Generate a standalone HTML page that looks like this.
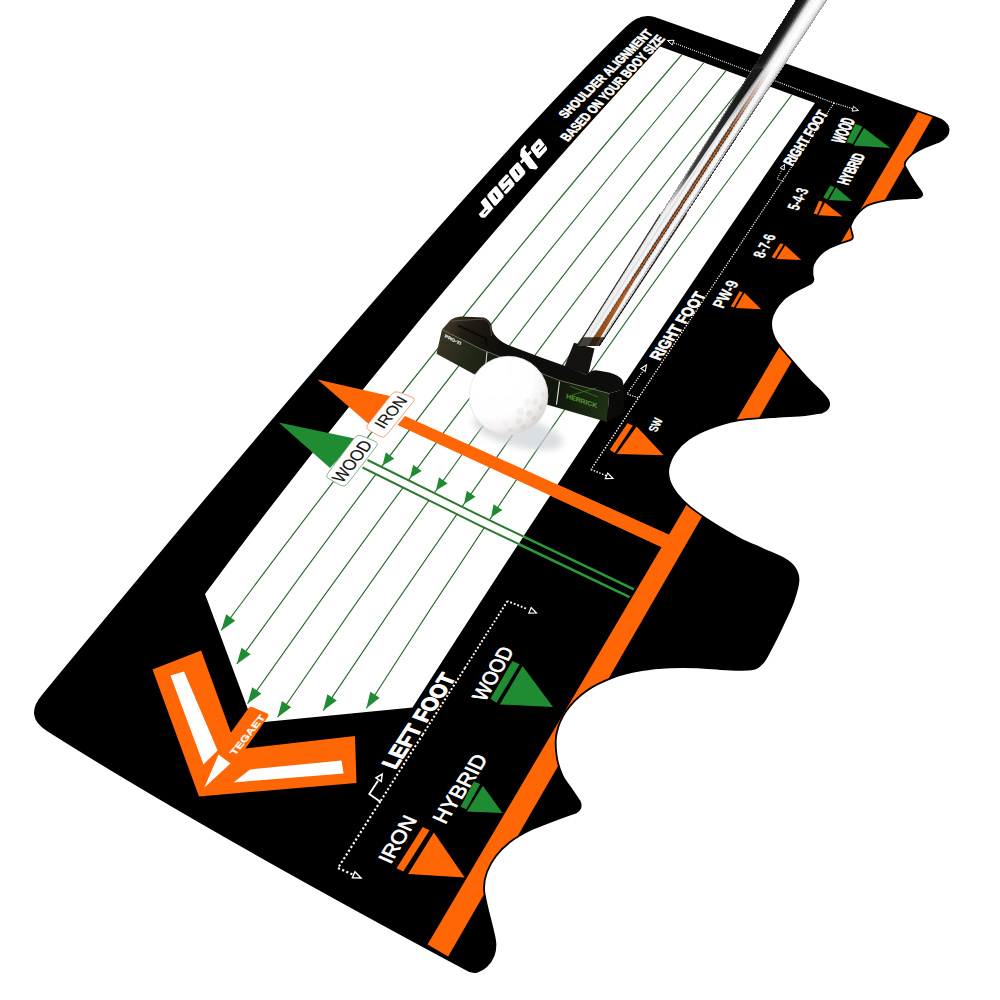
<!DOCTYPE html>
<html><head><meta charset="utf-8"><title>mat</title>
<style>
html,body{margin:0;padding:0;background:#fff;}
body{width:1000px;height:1000px;overflow:hidden;}
svg{display:block;font-family:"Liberation Sans",sans-serif;}
</style></head><body>
<svg width="1000" height="1000" viewBox="0 0 1000 1000">
<defs>
<clipPath id="matclip"><path d="M626 28 Q640.5 13 655 18.2 L936 117.5 C950 122 954 134 939.2 141.6 C936.8 142.53 929.33 145.07 924.8 147.2 C920.27 149.33 915.2 152 912 154.4 C908.8 156.8 906.8 159.73 905.6 161.6 C904.4 163.47 904.93 164.93 904.8 165.6 C906 167.73 909.3 174.08 912 178.4 C914.7 182.72 919.5 189.32 921 191.5 Q924.5 197 917 198 C913.5 198.2 902.17 198.6 896 199.2 C889.83 199.8 884.8 200.53 880 201.6 C875.2 202.67 870.67 203.87 867.2 205.6 C863.73 207.33 861.47 209.73 859.2 212 C856.93 214.27 855.07 216.8 853.6 219.2 C852.13 221.6 850.93 225.2 850.4 226.4 L852.8 236 Q853.5 240 848 240.8 C844.87 242 833.93 245.6 829.2 248 C824.47 250.4 822.27 252.4 819.6 255.2 C816.93 258 814.4 261.6 813.2 264.8 C812 268 812.53 272.8 812.4 274.4 L813.4 279 Q813.5 282.5 808 285 C805.67 286.17 798.2 289.5 794 292 C789.8 294.5 785.87 297.07 782.8 300 C779.73 302.93 777.47 306.4 775.6 309.6 C773.73 312.8 772.27 316 771.6 319.2 C770.93 322.4 771.07 325.6 771.6 328.8 C772.13 332 773.2 335.2 774.8 338.4 C776.4 341.6 778.42 344.4 781.2 348 C783.98 351.6 786.87 354.7 791.5 360 C796.13 365.3 803.82 374.3 809 379.8 C814.18 385.3 819.43 389.63 822.6 393 C825.77 396.37 827.1 398.83 828 400 Q832 408 822 412.5 C819.17 412.92 813.33 414.22 805 415 C796.67 415.78 783.37 416.28 772 417.2 C760.63 418.12 747.07 418.67 736.8 420.5 C726.53 422.33 718.47 425.08 710.4 428.2 C702.33 431.32 694.27 435.17 688.4 439.2 C682.53 443.23 678.5 447.63 675.2 452.4 C671.9 457.17 669.52 463.03 668.6 467.8 C667.68 472.57 668.23 476.6 669.7 481 C671.17 485.4 673.92 489.8 677.4 494.2 C680.88 498.6 684.73 502.63 690.6 507.4 C696.47 512.17 704.53 517.67 712.6 522.8 C720.67 527.93 730.57 533.8 739 538.2 C747.43 542.6 755.87 545.9 763.2 549.2 C770.53 552.5 777.87 555.07 783 558 C788.13 560.93 791.42 563.13 794 566.8 C796.58 570.47 798.63 574.2 798.5 580 C798.37 585.8 795.95 593.8 793.2 601.6 C790.45 609.4 785.73 618.87 782 626.8 C778.27 634.73 774.07 643.13 770.8 649.2 C767.53 655.27 765.67 659.83 762.4 663.2 C759.13 666.57 757.27 668.37 751.2 669.4 C745.13 670.43 734.87 669.73 726 669.4 C717.13 669.07 707.33 667.73 698 667.4 C688.67 667.07 679.33 666.93 670 667.4 C660.67 667.87 651.33 668.57 642 670.2 C632.67 671.83 623.33 673.7 614 677.2 C604.67 680.7 593.93 685.6 586 691.2 C578.07 696.8 571.3 703.8 566.4 710.8 C561.5 717.8 558.23 725.73 556.6 733.2 C554.97 740.67 555.67 748.6 556.6 755.6 C557.53 762.6 559.63 769.47 562.2 775.2 C564.77 780.93 569.12 785.7 572 790 C574.88 794.3 578.25 799.17 579.5 801 Q583 808 576 812.5 C571.67 814.08 557.67 819.08 550 822 C542.33 824.92 536.67 826.67 530 830 C523.33 833.33 515.67 837.67 510 842 C504.33 846.33 499.83 851 496 856 C492.17 861 489 866.67 487 872 C485 877.33 484 882.33 484 888 C484 893.67 485.6 899.33 487 906 C488.4 912.67 491 921.73 492.4 928 C493.8 934.27 495.2 939 495.4 943.6 C495.6 948.2 495.1 951.8 493.6 955.6 C492.1 959.4 489.2 963.7 486.4 966.4 C483.6 969.1 479.6 971 476.8 971.8 C474 972.6 470.8 971.3 469.6 971.2 Q199 826.4 47 730 Q25 716 43 695 Q454 196.4 626 28 Z"/></clipPath>
<clipPath id="panelclip"><path d="M660 46.5 L815 103 Q608.53 401.75 412.5 707.5 L253 723 L205 594 Q417.1 307.5 660 46.5 Z"/></clipPath>
<linearGradient id="shaftg" gradientUnits="userSpaceOnUse" x1="685.5" y1="162" x2="707.5" y2="176.2">
<stop offset="0" stop-color="#3a3a3a"/><stop offset="0.08" stop-color="#9a9a9a"/><stop offset="0.22" stop-color="#f4f4f4"/>
<stop offset="0.42" stop-color="#ffffff"/><stop offset="0.55" stop-color="#c8c8c8"/><stop offset="0.68" stop-color="#8a8a8a"/>
<stop offset="0.8" stop-color="#d8d8d8"/><stop offset="0.92" stop-color="#777"/><stop offset="1" stop-color="#222"/></linearGradient>
<radialGradient id="ballg" gradientUnits="userSpaceOnUse" cx="492" cy="376" r="66">
<stop offset="0" stop-color="#ffffff"/><stop offset="0.62" stop-color="#fefefe"/><stop offset="0.8" stop-color="#f3f1f1"/><stop offset="0.92" stop-color="#e2dcdc"/><stop offset="1" stop-color="#d2caca"/></radialGradient>
<linearGradient id="faceg" gradientUnits="userSpaceOnUse" x1="440" y1="340" x2="610" y2="410">
<stop offset="0" stop-color="#3a3424"/><stop offset="0.18" stop-color="#222818"/><stop offset="0.45" stop-color="#0e120b"/><stop offset="0.7" stop-color="#10170c"/><stop offset="1" stop-color="#1f3216"/></linearGradient>
<filter id="blur3" x="-20%" y="-20%" width="140%" height="140%"><feGaussianBlur stdDeviation="3"/></filter>
<linearGradient id="topg" gradientUnits="userSpaceOnUse" x1="445" y1="318" x2="500" y2="350"><stop offset="0" stop-color="#4a3d2c"/><stop offset="0.35" stop-color="#221d15"/><stop offset="1" stop-color="#0d0d0b"/></linearGradient>
<linearGradient id="fadeg" gradientUnits="userSpaceOnUse" x1="762" y1="62" x2="722" y2="128"><stop offset="0" stop-color="#fff" stop-opacity="0"/><stop offset="1" stop-color="#fff" stop-opacity="1"/></linearGradient>
<mask id="fadem" maskUnits="userSpaceOnUse" x="0" y="0" width="1000" height="1000"><rect width="1000" height="1000" fill="url(#fadeg)"/></mask>
<linearGradient id="wedgeg" gradientUnits="userSpaceOnUse" x1="740" y1="95" x2="668" y2="205"><stop offset="0" stop-color="#1a1a1a" stop-opacity="1"/><stop offset="0.7" stop-color="#222" stop-opacity="0.85"/><stop offset="1" stop-color="#333" stop-opacity="0"/></linearGradient>
<linearGradient id="browng" gradientUnits="userSpaceOnUse" x1="640" y1="262" x2="592" y2="338"><stop offset="0" stop-color="#b85a1c" stop-opacity="0"/><stop offset="0.5" stop-color="#b85a1c" stop-opacity="0.9"/><stop offset="1" stop-color="#8a4a18" stop-opacity="1"/></linearGradient>
</defs>
<rect width="1000" height="1000" fill="#fff"/>
<path d="M626 28 Q640.5 13 655 18.2 L936 117.5 C950 122 954 134 939.2 141.6 C936.8 142.53 929.33 145.07 924.8 147.2 C920.27 149.33 915.2 152 912 154.4 C908.8 156.8 906.8 159.73 905.6 161.6 C904.4 163.47 904.93 164.93 904.8 165.6 C906 167.73 909.3 174.08 912 178.4 C914.7 182.72 919.5 189.32 921 191.5 Q924.5 197 917 198 C913.5 198.2 902.17 198.6 896 199.2 C889.83 199.8 884.8 200.53 880 201.6 C875.2 202.67 870.67 203.87 867.2 205.6 C863.73 207.33 861.47 209.73 859.2 212 C856.93 214.27 855.07 216.8 853.6 219.2 C852.13 221.6 850.93 225.2 850.4 226.4 L852.8 236 Q853.5 240 848 240.8 C844.87 242 833.93 245.6 829.2 248 C824.47 250.4 822.27 252.4 819.6 255.2 C816.93 258 814.4 261.6 813.2 264.8 C812 268 812.53 272.8 812.4 274.4 L813.4 279 Q813.5 282.5 808 285 C805.67 286.17 798.2 289.5 794 292 C789.8 294.5 785.87 297.07 782.8 300 C779.73 302.93 777.47 306.4 775.6 309.6 C773.73 312.8 772.27 316 771.6 319.2 C770.93 322.4 771.07 325.6 771.6 328.8 C772.13 332 773.2 335.2 774.8 338.4 C776.4 341.6 778.42 344.4 781.2 348 C783.98 351.6 786.87 354.7 791.5 360 C796.13 365.3 803.82 374.3 809 379.8 C814.18 385.3 819.43 389.63 822.6 393 C825.77 396.37 827.1 398.83 828 400 Q832 408 822 412.5 C819.17 412.92 813.33 414.22 805 415 C796.67 415.78 783.37 416.28 772 417.2 C760.63 418.12 747.07 418.67 736.8 420.5 C726.53 422.33 718.47 425.08 710.4 428.2 C702.33 431.32 694.27 435.17 688.4 439.2 C682.53 443.23 678.5 447.63 675.2 452.4 C671.9 457.17 669.52 463.03 668.6 467.8 C667.68 472.57 668.23 476.6 669.7 481 C671.17 485.4 673.92 489.8 677.4 494.2 C680.88 498.6 684.73 502.63 690.6 507.4 C696.47 512.17 704.53 517.67 712.6 522.8 C720.67 527.93 730.57 533.8 739 538.2 C747.43 542.6 755.87 545.9 763.2 549.2 C770.53 552.5 777.87 555.07 783 558 C788.13 560.93 791.42 563.13 794 566.8 C796.58 570.47 798.63 574.2 798.5 580 C798.37 585.8 795.95 593.8 793.2 601.6 C790.45 609.4 785.73 618.87 782 626.8 C778.27 634.73 774.07 643.13 770.8 649.2 C767.53 655.27 765.67 659.83 762.4 663.2 C759.13 666.57 757.27 668.37 751.2 669.4 C745.13 670.43 734.87 669.73 726 669.4 C717.13 669.07 707.33 667.73 698 667.4 C688.67 667.07 679.33 666.93 670 667.4 C660.67 667.87 651.33 668.57 642 670.2 C632.67 671.83 623.33 673.7 614 677.2 C604.67 680.7 593.93 685.6 586 691.2 C578.07 696.8 571.3 703.8 566.4 710.8 C561.5 717.8 558.23 725.73 556.6 733.2 C554.97 740.67 555.67 748.6 556.6 755.6 C557.53 762.6 559.63 769.47 562.2 775.2 C564.77 780.93 569.12 785.7 572 790 C574.88 794.3 578.25 799.17 579.5 801 Q583 808 576 812.5 C571.67 814.08 557.67 819.08 550 822 C542.33 824.92 536.67 826.67 530 830 C523.33 833.33 515.67 837.67 510 842 C504.33 846.33 499.83 851 496 856 C492.17 861 489 866.67 487 872 C485 877.33 484 882.33 484 888 C484 893.67 485.6 899.33 487 906 C488.4 912.67 491 921.73 492.4 928 C493.8 934.27 495.2 939 495.4 943.6 C495.6 948.2 495.1 951.8 493.6 955.6 C492.1 959.4 489.2 963.7 486.4 966.4 C483.6 969.1 479.6 971 476.8 971.8 C474 972.6 470.8 971.3 469.6 971.2 Q199 826.4 47 730 Q25 716 43 695 Q454 196.4 626 28 Z" fill="#000"/>
<g clip-path="url(#matclip)">
<polygon points="920.2,108 935.4,112.3 448.2,956.4 427.5,944.6" fill="#ff6606" />
<polygon points="405,416 670,535.2 663,547.7 397.5,425" fill="#ff6606" />
</g>
<g stroke="#2a9a3a" stroke-width="2.6" fill="none">
<path d="M480 515.7 L634 589.4"/>
<path d="M480 525.6 L629.6 597.1"/>
</g>
<path d="M626 28 Q640.5 13 655 18.2 L936 117.5 C950 122 954 134 939.2 141.6 C936.8 142.53 929.33 145.07 924.8 147.2 C920.27 149.33 915.2 152 912 154.4 C908.8 156.8 906.8 159.73 905.6 161.6 C904.4 163.47 904.93 164.93 904.8 165.6 C906 167.73 909.3 174.08 912 178.4 C914.7 182.72 919.5 189.32 921 191.5 Q924.5 197 917 198 C913.5 198.2 902.17 198.6 896 199.2 C889.83 199.8 884.8 200.53 880 201.6 C875.2 202.67 870.67 203.87 867.2 205.6 C863.73 207.33 861.47 209.73 859.2 212 C856.93 214.27 855.07 216.8 853.6 219.2 C852.13 221.6 850.93 225.2 850.4 226.4 L852.8 236 Q853.5 240 848 240.8 C844.87 242 833.93 245.6 829.2 248 C824.47 250.4 822.27 252.4 819.6 255.2 C816.93 258 814.4 261.6 813.2 264.8 C812 268 812.53 272.8 812.4 274.4 L813.4 279 Q813.5 282.5 808 285 C805.67 286.17 798.2 289.5 794 292 C789.8 294.5 785.87 297.07 782.8 300 C779.73 302.93 777.47 306.4 775.6 309.6 C773.73 312.8 772.27 316 771.6 319.2 C770.93 322.4 771.07 325.6 771.6 328.8 C772.13 332 773.2 335.2 774.8 338.4 C776.4 341.6 778.42 344.4 781.2 348 C783.98 351.6 786.87 354.7 791.5 360 C796.13 365.3 803.82 374.3 809 379.8 C814.18 385.3 819.43 389.63 822.6 393 C825.77 396.37 827.1 398.83 828 400 Q832 408 822 412.5 C819.17 412.92 813.33 414.22 805 415 C796.67 415.78 783.37 416.28 772 417.2 C760.63 418.12 747.07 418.67 736.8 420.5 C726.53 422.33 718.47 425.08 710.4 428.2 C702.33 431.32 694.27 435.17 688.4 439.2 C682.53 443.23 678.5 447.63 675.2 452.4 C671.9 457.17 669.52 463.03 668.6 467.8 C667.68 472.57 668.23 476.6 669.7 481 C671.17 485.4 673.92 489.8 677.4 494.2 C680.88 498.6 684.73 502.63 690.6 507.4 C696.47 512.17 704.53 517.67 712.6 522.8 C720.67 527.93 730.57 533.8 739 538.2 C747.43 542.6 755.87 545.9 763.2 549.2 C770.53 552.5 777.87 555.07 783 558 C788.13 560.93 791.42 563.13 794 566.8 C796.58 570.47 798.63 574.2 798.5 580 C798.37 585.8 795.95 593.8 793.2 601.6 C790.45 609.4 785.73 618.87 782 626.8 C778.27 634.73 774.07 643.13 770.8 649.2 C767.53 655.27 765.67 659.83 762.4 663.2 C759.13 666.57 757.27 668.37 751.2 669.4 C745.13 670.43 734.87 669.73 726 669.4 C717.13 669.07 707.33 667.73 698 667.4 C688.67 667.07 679.33 666.93 670 667.4 C660.67 667.87 651.33 668.57 642 670.2 C632.67 671.83 623.33 673.7 614 677.2 C604.67 680.7 593.93 685.6 586 691.2 C578.07 696.8 571.3 703.8 566.4 710.8 C561.5 717.8 558.23 725.73 556.6 733.2 C554.97 740.67 555.67 748.6 556.6 755.6 C557.53 762.6 559.63 769.47 562.2 775.2 C564.77 780.93 569.12 785.7 572 790 C574.88 794.3 578.25 799.17 579.5 801 Q583 808 576 812.5 C571.67 814.08 557.67 819.08 550 822 C542.33 824.92 536.67 826.67 530 830 C523.33 833.33 515.67 837.67 510 842 C504.33 846.33 499.83 851 496 856 C492.17 861 489 866.67 487 872 C485 877.33 484 882.33 484 888 C484 893.67 485.6 899.33 487 906 C488.4 912.67 491 921.73 492.4 928 C493.8 934.27 495.2 939 495.4 943.6 C495.6 948.2 495.1 951.8 493.6 955.6 C492.1 959.4 489.2 963.7 486.4 966.4 C483.6 969.1 479.6 971 476.8 971.8 C474 972.6 470.8 971.3 469.6 971.2 Q199 826.4 47 730 Q25 716 43 695 Q454 196.4 626 28 Z" fill="none" stroke="#000" stroke-width="1.8"/>
<path d="M660 46.5 L815 103 Q608.53 401.75 412.5 707.5 L253 723 L205 594 Q417.1 307.5 660 46.5 Z" fill="#fff"/>
<path d="M682 54.5 Q440.47 333.68 221.2 630.4" fill="none" stroke="#2e6632" stroke-width="1.15"/>
<polygon points="221.2,630.4 226.21,614.2 235.21,620.86" fill="#1f8b32" />
<path d="M704 62.5 Q458.24 353.95 236.8 664" fill="none" stroke="#2e6632" stroke-width="1.15"/>
<polygon points="236.8,664 241.54,647.73 250.66,654.23" fill="#1f8b32" />
<polygon points="382.5,465.5 385.8,452.33 394.26,458.71" fill="#1f8b32" />
<path d="M726 70.6 Q475.43 378.6 247.6 703.6" fill="none" stroke="#2e6632" stroke-width="1.15"/>
<polygon points="247.6,703.6 252.2,687.28 261.37,693.71" fill="#1f8b32" />
<polygon points="410,478 413.17,464.8 421.69,471.1" fill="#1f8b32" />
<path d="M748 78.6 Q500.42 388.94 277.6 717.3" fill="none" stroke="#2e6632" stroke-width="1.15"/>
<polygon points="277.6,717.3 281.95,700.92 291.22,707.2" fill="#1f8b32" />
<polygon points="436,490.5 438.99,477.26 447.6,483.44" fill="#1f8b32" />
<path d="M770 86.6 Q535.82 390.98 323.2 710.6" fill="none" stroke="#2e6632" stroke-width="1.15"/>
<polygon points="323.2,710.6 327.4,694.18 336.72,700.38" fill="#1f8b32" />
<polygon points="464,504 466.81,490.72 475.5,496.78" fill="#1f8b32" />
<path d="M792 94.6 Q566.84 393.02 366.4 708.3" fill="none" stroke="#2e6632" stroke-width="1.15"/>
<polygon points="366.4,708.3 370.26,691.79 379.71,697.8" fill="#1f8b32" />
<polygon points="491,517.5 493.56,504.17 502.36,510.07" fill="#1f8b32" />
<g clip-path="url(#matclip)">
<polygon points="405,416 670,535.2 663,547.7 397.5,425" fill="#ff6606" />
</g>
<g clip-path="url(#panelclip)">
<polygon points="367.5,460 634,589.4 629.6,597.1 362.5,467.5" fill="#fff" />
<g stroke="#2f7a32" stroke-width="2" fill="none">
<path d="M367.5 460 L480 515.7 L634 589.4"/>
<path d="M362.5 467.5 L480 525.6 L629.6 597.1"/>
</g></g>
<polygon points="317.5,379.5 392,396.5 371,426" fill="#ff6606" />
<polygon points="278.75,422.5 357,439 330,468" fill="#1f8b32" />
<path d="M391.82 394.14 Q394.6 390.6 398.81 392.18 L411.69 397.02 Q415.9 398.6 413.07 402.1 L386.43 435.1 Q383.6 438.6 379.7 436.35 L369.1 430.25 Q365.2 428 367.98 424.46 Z" fill="#fff" stroke="#f4a27a" stroke-width="1"/>
<path d="M354.79 437.59 Q357.5 434 361.65 435.74 L374.85 441.26 Q379 443 376.24 446.56 L347.26 483.94 Q344.5 487.5 340.56 485.32 L329.14 478.98 Q325.2 476.8 327.91 473.21 Z" fill="#fff" stroke="#8fae8f" stroke-width="1"/>
<text transform="matrix(0.0984 -0.1168 0.1424 0.0770 383.6 429.6)" font-size="100" font-weight="400" fill="#111"  stroke="#111" stroke-width="0.8" stroke-linejoin="round">IRON</text>
<text transform="matrix(0.0959 -0.1220 0.1599 0.0814 342.3 483.7)" font-size="100" font-weight="400" fill="#111"  stroke="#111" stroke-width="0.8" stroke-linejoin="round">WOOD</text>
<polygon points="152.5,669.6 201.1,650.4 237,749.5 355,736 356.5,783 199,796.5" fill="#ff6606" />
<polygon points="170.5,675.6 184,671.4 217.6,750.6 203.5,764.4" fill="#fff" />
<polygon points="233.5,782.4 250,769.5 341.5,760.5 343.6,773.4" fill="#fff" />
<polygon points="218.5,754.5 230.5,763.5 204.4,787.5" fill="#fff" />
<path d="M248.25 708.44 Q250 706 252.75 707.2 L266.75 713.3 Q269.5 714.5 267.77 716.95 L237.73 759.55 Q236 762 233.35 760.6 L219.65 753.4 Q217 752 218.75 749.56 Z" fill="#ff6606" stroke="none" stroke-width="0"/>
<text transform="matrix(0.0759 -0.0952 0.0814 0.0451 235 755.8)" font-size="100" font-weight="700" fill="#fff"  stroke="#fff" stroke-width="3" stroke-linejoin="round">TEGAET</text>
<polygon points="855.2,124 862.4,126.4 852.8,144 846.4,141.9" fill="#1f8b32" />
<polygon points="864,128 853.6,145.6 890.4,148" fill="#1f8b32" />
<polygon points="830.4,185.6 834.4,187.2 827.2,199.2 823.2,197.6" fill="#1f8b32" />
<polygon points="836,187.2 828.8,200 852,201" fill="#1f8b32" />
<polygon points="819.2,200.8 822.7,201.8 817.1,214.6 813.6,213.6" fill="#ff6606" />
<polygon points="824.8,202.4 818.4,215.2 842.4,216.5" fill="#ff6606" />
<polygon points="780.4,243.2 783.6,244.3 774.8,258.4 771.6,257.1" fill="#ff6606" />
<polygon points="785.2,245.3 776.7,258.9 801.2,260" fill="#ff6606" />
<polygon points="739.6,291.2 742.6,292.2 733.8,307.4 730.8,306.4" fill="#ff6606" />
<polygon points="744.4,292.8 735.6,308 761.2,309.3" fill="#ff6606" />
<polygon points="627.4,423.3 632.9,425.5 614.6,453 609.8,449.7" fill="#ff6606" />
<polygon points="636.6,426.6 616.8,454.1 663.7,455.2" fill="#ff6606" />
<polygon points="512.4,661 519.7,664.3 496.5,702.8 490.4,698.8" fill="#1f8b32" />
<polygon points="522.6,666 499.8,704.5 553,706.9" fill="#1f8b32" />
<polygon points="473.8,781.5 480.3,784.1 466.4,809.3 460.5,806.7" fill="#1f8b32" />
<polygon points="482.9,785.7 466.8,811.6 502.5,813" fill="#1f8b32" />
<polygon points="422.7,827 429.6,830.3 403.3,871.6 396.5,868.3" fill="#ff6606" />
<polygon points="433.9,832.6 408,873.9 464.7,877.4" fill="#ff6606" />
<text transform="matrix(0.0746 -0.0727 0.1119 0.0698 565.6 119)" font-size="100" font-weight="700" fill="#fff"  stroke="#fff" stroke-width="5" stroke-linejoin="round">SHOULDER ALIGNMENT</text>
<text transform="matrix(0.0693 -0.0732 0.1192 0.0698 567.8 142.1)" font-size="100" font-weight="700" fill="#fff"  stroke="#fff" stroke-width="5" stroke-linejoin="round">BASED ON YOUR BOOY SIZE</text>
<text transform="matrix(0.0590 -0.0863 0.1366 0.0610 792.2 166.6)" font-size="100" font-weight="700" fill="#fff"  stroke="#fff" stroke-width="5" stroke-linejoin="round">RIGHT FOOT</text>
<text transform="matrix(0.0348 -0.0745 0.1817 0.0509 844 144)" font-size="100" font-weight="700" fill="#fff"  stroke="#fff" stroke-width="5" stroke-linejoin="round">WOOD</text>
<text transform="matrix(0.0459 -0.0793 0.1628 0.0422 848 185.6)" font-size="100" font-weight="700" fill="#fff"  stroke="#fff" stroke-width="5" stroke-linejoin="round">HYBRID</text>
<text transform="matrix(0.0471 -0.0900 0.1599 0.0436 798 211)" font-size="100" font-weight="700" fill="#fff"  stroke="#fff" stroke-width="2" stroke-linejoin="round">5-4-3</text>
<text transform="matrix(0.0548 -0.0960 0.1584 0.0378 763.6 258.4)" font-size="100" font-weight="700" fill="#fff"  stroke="#fff" stroke-width="2" stroke-linejoin="round">8-7-6</text>
<text transform="matrix(0.0645 -0.1048 0.1599 0.0523 723 309)" font-size="100" font-weight="700" fill="#fff"  stroke="#fff" stroke-width="2" stroke-linejoin="round">PW-9</text>
<text transform="matrix(0.0410 -0.0819 0.1221 0.0320 656.5 432.6)" font-size="100" font-weight="700" fill="#fff"  stroke="#fff" stroke-width="2" stroke-linejoin="round">SW</text>
<text transform="matrix(0.0762 -0.1078 0.1526 0.0552 659.5 361)" font-size="100" font-weight="700" fill="#fff"  stroke="#fff" stroke-width="5" stroke-linejoin="round">RIGHT FOOT</text>
<text transform="matrix(0.1104 -0.1676 0.2064 0.0770 395.3 770)" font-size="100" font-weight="700" fill="#fff"  stroke="#fff" stroke-width="5" stroke-linejoin="round">LEFT FOOT</text>
<text transform="matrix(0.0906 -0.1608 0.1948 0.0770 485 702.2)" font-size="100" font-weight="400" fill="#fff"  stroke="#fff" stroke-width="3.5" stroke-linejoin="round">WOOD</text>
<text transform="matrix(0.1146 -0.1760 0.1933 0.0872 445.1 824.9)" font-size="100" font-weight="400" fill="#fff"  stroke="#fff" stroke-width="3.5" stroke-linejoin="round">HYBRID</text>
<text transform="matrix(0.1076 -0.1812 0.1860 0.0814 390.5 864.8)" font-size="100" font-weight="400" fill="#fff"  stroke="#fff" stroke-width="3.5" stroke-linejoin="round">IRON</text>
<polygon points="481,217.44 485.02,217.63 493.53,208.33 485.13,197.13 480.4,202.3 484.6,207.9 482.24,210.48 478.69,214.36" fill="#fff" />
<polygon points="484.2,214.25 487.98,210.11 487.31,209.22 483.53,213.35" fill="#000" />
<polygon points="494.1,205.66 495.89,205.75 503.45,197.49 503.55,195.33 496.83,186.37 495.05,186.29 487.49,194.55 487.38,196.7" fill="#fff" />
<polygon points="497,199.44 498.13,198.2 493.93,192.6 492.8,193.84" fill="#000" />
<polygon points="504.97,193.78 506.76,193.87 514.32,185.6 514.42,183.45 507.7,174.49 505.92,174.4 498.36,182.67 498.25,184.82" fill="#fff" />
<polygon points="503.98,183.86 509.88,177.4 509.13,176.39 503.22,182.85" fill="#000" />
<polygon points="503.54,191.88 509.45,185.42 508.69,184.41 502.79,190.87" fill="#000" />
<polygon points="515.84,181.9 517.62,181.99 525.18,173.72 525.29,171.57 518.57,162.61 516.78,162.52 509.22,170.79 509.12,172.94" fill="#fff" />
<polygon points="518.74,175.67 519.87,174.43 515.67,168.83 514.54,170.07" fill="#000" />
<polygon points="529.67,168.81 536.13,169.4 538.02,167.33 529.2,155.57 531.8,152.73 530.12,150.49 527.52,153.33 524.58,149.41 526.71,147.09 525.03,144.85 520.77,149.5 520.01,155.93 522.32,159.01 519.96,161.6 521.64,163.84 524,161.25" fill="#fff" />
<polygon points="537.57,158.14 539.36,158.22 546.92,149.96 547.02,147.81 540.3,138.85 538.52,138.76 530.96,147.02 530.85,149.18" fill="#fff" />
<polygon points="539.28,152.39 545.43,145.68 544.67,144.67 538.53,151.38" fill="#000" />
<polygon points="536.68,148.92 539.75,145.56 538.83,144.33 535.76,147.69" fill="#000" />
<polyline points="674,43 754,73" fill="none" stroke="#fff" stroke-width="1.0375" stroke-dasharray="1.04 1.09"/>
<polyline points="754,73 834,103" fill="none" stroke="#fff" stroke-width="1.1124999999999998" stroke-dasharray="1.11 1.17"/>
<polyline points="834,103 785.4,176.3" fill="none" stroke="#fff" stroke-width="1.135" stroke-dasharray="1.14 1.19"/>
<polyline points="785.4,176.3 736.8,249.6" fill="none" stroke="#fff" stroke-width="1.205" stroke-dasharray="1.21 1.27"/>
<polyline points="736.8,249.6 688.2,322.9" fill="none" stroke="#fff" stroke-width="1.275" stroke-dasharray="1.27 1.34"/>
<polyline points="688.2,322.9 639.6,396.2" fill="none" stroke="#fff" stroke-width="1.345" stroke-dasharray="1.34 1.41"/>
<polyline points="639.6,396.2 591,469.5" fill="none" stroke="#fff" stroke-width="1.415" stroke-dasharray="1.42 1.49"/>
<polyline points="591,469.5 607,476" fill="none" stroke="#fff" stroke-width="1.45" stroke-dasharray="1.45 1.52"/>
<polyline points="834,103 852,108.5" fill="none" stroke="#fff" stroke-width="1.1" stroke-dasharray="1.1 1.16"/>
<polyline points="526,608.5 507.5,601" fill="none" stroke="#fff" stroke-width="1.85" stroke-dasharray="1.85 1.94"/>
<polyline points="507.5,601 465.12,667.75" fill="none" stroke="#fff" stroke-width="1.89375" stroke-dasharray="1.89 1.99"/>
<polyline points="465.12,667.75 422.75,734.5" fill="none" stroke="#fff" stroke-width="1.9812500000000002" stroke-dasharray="1.98 2.08"/>
<polyline points="422.75,734.5 380.38,801.25" fill="none" stroke="#fff" stroke-width="2.06875" stroke-dasharray="2.07 2.17"/>
<polyline points="380.38,801.25 338,868" fill="none" stroke="#fff" stroke-width="2.15625" stroke-dasharray="2.16 2.26"/>
<polyline points="338,868 355,875.5" fill="none" stroke="#fff" stroke-width="2.2" stroke-dasharray="2.2 2.31"/>
<polygon points="667.5,40.5 674,40.27 672.24,44.95" fill="#000" stroke="#fff" stroke-width="1"/>
<polygon points="858.5,110.5 852.03,111.1 853.52,106.32" fill="#000" stroke="#fff" stroke-width="1"/>
<polygon points="613,478.5 605.38,478.56 607.7,473.03" fill="#000" stroke="#fff" stroke-width="1.2"/>
<polygon points="536.5,613 528.88,613.05 531.21,607.52" fill="#000" stroke="#fff" stroke-width="1.2"/>
<polygon points="361,878 352.35,877.88 354.95,871.82" fill="#000" stroke="#fff" stroke-width="1.4"/>
<polyline points="380.3,801.8 369.3,794 378,780.8" fill="none" stroke="#fff" stroke-width="1.9"/>
<polygon points="382.2,774.2 381.29,781.39 375.95,777.87" fill="#000" stroke="#fff" stroke-width="1.5"/>
<polyline points="638,397.7 627,394 643,371" fill="none" stroke="#fff" stroke-width="1.2" stroke-dasharray="1.2 1.3"/>
<polygon points="646.5,365 645.21,371.41 640.94,368.44" fill="#000" stroke="#fff" stroke-width="1.1"/>
<polyline points="783.5,181.5 777,179 782,169.5" fill="none" stroke="#fff" stroke-width="1.0" stroke-dasharray="1 1.1"/>
<polygon points="784.5,164.5 784.12,169.95 780.22,167.9" fill="#000" stroke="#fff" stroke-width="1"/>
<g clip-path="url(#panelclip)"><ellipse cx="518" cy="432" rx="46" ry="15" fill="#cfd3d8" opacity="0.75" filter="url(#blur3)" transform="rotate(14 518 432)"/></g>
<path d="M442 329.6 L450.8 319.7 Q455 316.6 460.7 316.4 L483.8 317.5 Q489.5 319.5 491.5 325.2 Q491.5 337 508 345 L543.2 358.2 L565.2 365.9 L586.1 374.7 Q592 370 596 370.3 L609.2 372.5 Q619 375 622.4 380.2 L624.6 389 L609.2 393.4 L558.6 380.2 L481.6 349.4 Z" fill="url(#topg)"/>
<path d="M451 321 L484 319 Q489.5 321.5 490.5 327 L491.5 336" fill="none" stroke="#6b5f4a" stroke-width="0.9" opacity="0.8"/>
<path d="M458 325.5 L486 338.5 L486.5 345.5" fill="none" stroke="#000" stroke-width="2" opacity="0.55"/>
<path d="M442 329.6 L481.6 349.4 L558.6 380.2 L609.2 393.4 L607 422 L546.5 404.4 L472.8 373.6 L436.5 353.8 Z" fill="url(#faceg)"/>
<polygon points="609.2,393.4 624.6,389 623.5,413.2 607,422" fill="#0a0a08" />
<path d="M442 329.6 L481.6 349.4 L558.6 380.2 L609.2 393.4" fill="none" stroke="#6a6a55" stroke-width="0.8"/>
<path d="M487 352 L485 372" stroke="#ddd" stroke-width="1"/>
<path d="M559.5 381.5 L556.5 404.5" stroke="#e8e8e8" stroke-width="1.1"/>
<text transform="matrix(0.0472 0.0239 -0.0102 0.0436 444.5 337.2)" font-size="100" font-weight="700" fill="#e6e6e6"  stroke="#e6e6e6" stroke-width="4" stroke-linejoin="round">PRO-TI</text>
<text transform="matrix(0.0680 0.0220 -0.0073 0.0625 566 398)" font-size="100" font-weight="700" fill="#4f8f2c"  stroke="#4f8f2c" stroke-width="3" stroke-linejoin="round">HERRICK</text>
<path d="M570 386 L598 397 M572 395 L596 388" stroke="#3f7a25" stroke-width="0.8"/>
<polygon points="574,342.8 594.5,348.5 588,375.5 564.5,366.5" fill="#15120f" />
<g shape-rendering="crispEdges">
<polygon points="796.4,-1 797.31,-1 698.47,155.15 697.67,155.15" fill="#2d2d2d" />
<polygon points="797.19,-1 798.1,-1 699.15,155.15 698.36,155.15" fill="#101010" />
<polygon points="797.98,-1 798.89,-1 699.84,155.15 699.04,155.15" fill="#111111" />
<polygon points="798.76,-1 799.68,-1 700.52,155.15 699.73,155.15" fill="#121212" />
<polygon points="799.55,-1 800.46,-1 701.21,155.15 700.41,155.15" fill="#131313" />
<polygon points="800.34,-1 801.25,-1 701.9,155.15 701.1,155.15" fill="#141414" />
<polygon points="801.12,-1 802.04,-1 702.58,155.15 701.79,155.15" fill="#151515" />
<polygon points="801.91,-1 802.83,-1 703.27,155.15 702.47,155.15" fill="#161616" />
<polygon points="802.7,-1 803.61,-1 703.96,155.15 703.16,155.15" fill="#181818" />
<polygon points="803.49,-1 804.4,-1 704.64,155.15 703.85,155.15" fill="#191919" />
<polygon points="804.27,-1 805.19,-1 705.33,155.15 704.53,155.15" fill="#1c1c1c" />
<polygon points="805.06,-1 805.98,-1 706.01,155.15 705.22,155.15" fill="#292929" />
<polygon points="805.85,-1 806.76,-1 706.7,155.15 705.9,155.15" fill="#363636" />
<polygon points="806.64,-1 807.55,-1 707.39,155.15 706.59,155.15" fill="#434343" />
<polygon points="807.42,-1 808.34,-1 708.07,155.15 707.28,155.15" fill="#626262" />
<polygon points="808.21,-1 809.13,-1 708.76,155.15 707.96,155.15" fill="#818181" />
<polygon points="809,-1 809.91,-1 709.45,155.15 708.65,155.15" fill="#9f9f9f" />
<polygon points="809.79,-1 810.7,-1 710.13,155.15 709.34,155.15" fill="#bdbdbd" />
<polygon points="810.57,-1 811.49,-1 710.82,155.15 710.02,155.15" fill="#d7d7d7" />
<polygon points="811.36,-1 812.28,-1 711.5,155.15 710.71,155.15" fill="#e2e2e2" />
<polygon points="812.15,-1 813.06,-1 712.19,155.15 711.39,155.15" fill="#ededed" />
<polygon points="812.94,-1 813.85,-1 712.88,155.15 712.08,155.15" fill="#f4f4f4" />
<polygon points="813.73,-1 814.64,-1 713.56,155.15 712.77,155.15" fill="#f5f5f5" />
<polygon points="814.51,-1 815.43,-1 714.25,155.15 713.45,155.15" fill="#f7f7f7" />
<polygon points="815.3,-1 816.21,-1 714.94,155.15 714.14,155.15" fill="#f8f8f8" />
<polygon points="816.09,-1 817,-1 715.62,155.15 714.83,155.15" fill="#fafafa" />
<polygon points="816.88,-1 817.79,-1 716.31,155.15 715.51,155.15" fill="#fbfbfb" />
<polygon points="817.66,-1 818.58,-1 716.99,155.15 716.2,155.15" fill="#fdfdfd" />
<polygon points="818.45,-1 819.36,-1 717.68,155.15 716.88,155.15" fill="#fefefe" />
<polygon points="819.24,-1 820.15,-1 718.37,155.15 717.57,155.15" fill="#fcfcfc" />
<polygon points="820.02,-1 820.94,-1 719.05,155.15 718.26,155.15" fill="#f9f9f9" />
<polygon points="820.81,-1 821.73,-1 719.74,155.15 718.94,155.15" fill="#f6f6f6" />
<polygon points="821.6,-1 822.51,-1 720.43,155.15 719.63,155.15" fill="#f4f4f4" />
<polygon points="822.39,-1 823.3,-1 721.11,155.15 720.32,155.15" fill="#f1f1f1" />
<polygon points="823.17,-1 824.09,-1 721.8,155.15 721,155.15" fill="#eaeaea" />
<polygon points="823.96,-1 824.88,-1 722.48,155.15 721.69,155.15" fill="#e1e1e1" />
<polygon points="824.75,-1 825.66,-1 723.17,155.15 722.38,155.15" fill="#d8d8d8" />
<polygon points="825.54,-1 826.45,-1 723.86,155.15 723.06,155.15" fill="#c8c8c8" />
<polygon points="826.32,-1 827.24,-1 724.54,155.15 723.75,155.15" fill="#b7b7b7" />
<polygon points="827.11,-1 828.03,-1 725.23,155.15 724.43,155.15" fill="#999999" />
</g>
<g mask="url(#fadem)" shape-rendering="crispEdges">
<polygon points="770.07,40.64 770.95,40.64 577.65,346 577,346" fill="#a3a3a3" />
<polygon points="770.83,40.64 771.71,40.64 578.22,346 577.56,346" fill="#a2a2a2" />
<polygon points="771.59,40.64 772.48,40.64 578.78,346 578.12,346" fill="#d9d9d9" />
<polygon points="772.35,40.64 773.24,40.64 579.34,346 578.69,346" fill="#e8e8e8" />
<polygon points="773.11,40.64 774,40.64 579.9,346 579.25,346" fill="#eaeaea" />
<polygon points="773.87,40.64 774.76,40.64 580.47,346 579.81,346" fill="#ededed" />
<polygon points="774.63,40.64 775.52,40.64 581.03,346 580.38,346" fill="#f0f0f0" />
<polygon points="775.4,40.64 776.28,40.64 581.59,346 580.94,346" fill="#f2f2f2" />
<polygon points="776.16,40.64 777.04,40.64 582.15,346 581.5,346" fill="#f0f0f0" />
<polygon points="776.92,40.64 777.8,40.64 582.72,346 582.06,346" fill="#ebebeb" />
<polygon points="777.68,40.64 778.56,40.64 583.28,346 582.62,346" fill="#e5e5e5" />
<polygon points="778.44,40.64 779.32,40.64 583.84,346 583.19,346" fill="#e0e0e0" />
<polygon points="779.2,40.64 780.08,40.64 584.4,346 583.75,346" fill="#e3e3e3" />
<polygon points="779.96,40.64 780.84,40.64 584.97,346 584.31,346" fill="#ededed" />
<polygon points="780.72,40.64 781.6,40.64 585.53,346 584.88,346" fill="#f5f5f5" />
<polygon points="781.48,40.64 782.36,40.64 586.09,346 585.44,346" fill="#f4f4f4" />
<polygon points="782.24,40.64 783.12,40.64 586.65,346 586,346" fill="#f2f2f2" />
<polygon points="783,40.64 783.88,40.64 587.22,346 586.56,346" fill="#f1f1f1" />
<polygon points="783.76,40.64 784.64,40.64 587.78,346 587.12,346" fill="#e4e4e4" />
<polygon points="784.52,40.64 785.4,40.64 588.34,346 587.69,346" fill="#a4a4a4" />
<polygon points="785.28,40.64 786.16,40.64 588.9,346 588.25,346" fill="#5b5856" />
<polygon points="786.04,40.64 786.92,40.64 589.47,346 588.81,346" fill="#4f321e" />
<polygon points="786.8,40.64 787.69,40.64 590.03,346 589.38,346" fill="#b2571c" />
<polygon points="787.56,40.64 788.45,40.64 590.59,346 589.94,346" fill="#c15d1d" />
<polygon points="788.32,40.64 789.21,40.64 591.15,346 590.5,346" fill="#7b3f19" />
<polygon points="789.08,40.64 789.97,40.64 591.72,346 591.06,346" fill="#514640" />
<polygon points="789.85,40.64 790.73,40.64 592.28,346 591.62,346" fill="#b9b7b6" />
<polygon points="790.61,40.64 791.49,40.64 592.84,346 592.19,346" fill="#dbdbdb" />
<polygon points="791.37,40.64 792.25,40.64 593.4,346 592.75,346" fill="#e9e9e9" />
<polygon points="792.13,40.64 793.01,40.64 593.97,346 593.31,346" fill="#f7f7f7" />
<polygon points="792.89,40.64 793.77,40.64 594.53,346 593.88,346" fill="#f7f7f7" />
<polygon points="793.65,40.64 794.53,40.64 595.09,346 594.44,346" fill="#f6f6f6" />
<polygon points="794.41,40.64 795.29,40.64 595.65,346 595,346" fill="#f5f5f5" />
<polygon points="795.17,40.64 796.05,40.64 596.22,346 595.56,346" fill="#f4f4f4" />
<polygon points="795.93,40.64 796.81,40.64 596.78,346 596.12,346" fill="#eaeaea" />
<polygon points="796.69,40.64 797.57,40.64 597.34,346 596.69,346" fill="#b6b6b6" />
<polygon points="797.45,40.64 798.33,40.64 597.9,346 597.25,346" fill="#c6c6c6" />
<polygon points="798.21,40.64 799.09,40.64 598.47,346 597.81,346" fill="#c0c0c0" />
<polygon points="798.97,40.64 799.85,40.64 599.03,346 598.38,346" fill="#555555" />
<polygon points="799.73,40.64 800.61,40.64 599.59,346 598.94,346" fill="#3d3d3d" />
</g>
<polygon points="753.71,68.4 763.21,68.4 739.22,103.1 668.41,207.2 666.33,207.2 709.76,137.8" fill="url(#wedgeg)" />
<polygon points="647.95,255.78 649.44,255.78 595.45,346 588.25,346" fill="url(#browng)" />
<path d="M660.37 214.14 L577.45 346" stroke="#1a1512" stroke-width="1.1" fill="none" opacity="0.85"/>
<path d="M686.29 214.14 L599.05 346" stroke="#1a1512" stroke-width="1.1" fill="none" opacity="0.85"/>
<polygon points="582.49,337.32 605.21,337.32 599.5,346 577,346" fill="#1a1410" opacity="0.8"/>
<circle cx="508.6" cy="395.6" r="39.3" fill="url(#ballg)" stroke="#e3e3e3" stroke-width="0.8"/>
<g><ellipse cx="542.87" cy="393.92" rx="1.91" ry="3" transform="rotate(357.2 542.87 393.92)" fill="#cfc6c6" opacity="0.27"/><ellipse cx="540.9" cy="407.16" rx="1.91" ry="3" transform="rotate(379.7 540.9 407.16)" fill="#cfc6c6" opacity="0.45"/><ellipse cx="534.02" cy="418.65" rx="1.91" ry="3" transform="rotate(402.2 534.02 418.65)" fill="#cfc6c6" opacity="0.5"/><ellipse cx="523.26" cy="426.62" rx="1.91" ry="3" transform="rotate(424.7 523.26 426.62)" fill="#cfc6c6" opacity="0.46"/><ellipse cx="510.28" cy="429.87" rx="1.91" ry="3" transform="rotate(447.2 510.28 429.87)" fill="#cfc6c6" opacity="0.3"/><ellipse cx="535.34" cy="401.77" rx="2.96" ry="3.4" transform="rotate(372.99 535.34 401.77)" fill="#cfc6c6" opacity="0.27"/><ellipse cx="529.41" cy="413.49" rx="2.96" ry="3.4" transform="rotate(400.68 529.41 413.49)" fill="#cfc6c6" opacity="0.36"/><ellipse cx="518.72" cy="421.12" rx="2.96" ry="3.4" transform="rotate(428.37 518.72 421.12)" fill="#cfc6c6" opacity="0.3"/><ellipse cx="505.7" cy="422.89" rx="2.96" ry="3.4" transform="rotate(456.07 505.7 422.89)" fill="#cfc6c6" opacity="0.11"/><ellipse cx="527.52" cy="401.52" rx="3.67" ry="3.6" transform="rotate(377.38 527.52 401.52)" fill="#cfc6c6" opacity="0.14"/><ellipse cx="520.42" cy="411.51" rx="3.67" ry="3.6" transform="rotate(413.38 520.42 411.51)" fill="#cfc6c6" opacity="0.18"/></g>
</svg>
</body></html>
